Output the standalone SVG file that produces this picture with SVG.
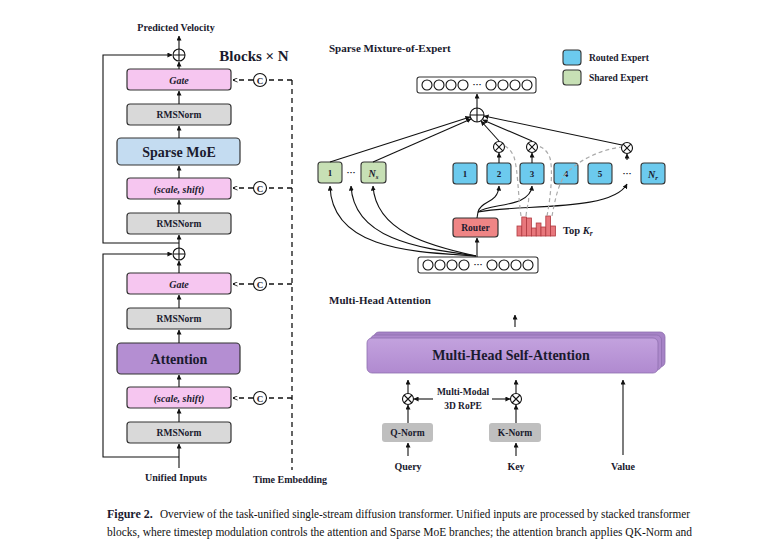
<svg xmlns="http://www.w3.org/2000/svg" width="765" height="540" viewBox="0 0 765 540">
<defs>
<marker id="ah" viewBox="0 0 6 6" refX="5.5" refY="3" markerWidth="5" markerHeight="5" orient="auto" markerUnits="userSpaceOnUse">
<path d="M0,0 L6,3 L0,6 z" fill="#111"/>
</marker>
<marker id="ahd" viewBox="0 0 6 6" refX="5.5" refY="3" markerWidth="5" markerHeight="5" orient="auto" markerUnits="userSpaceOnUse">
<path d="M0,0.5 L6,3 L0,5.5" fill="none" stroke="#111" stroke-width="1"/>
</marker>
<linearGradient id="mh" x1="0" y1="0" x2="0" y2="1">
<stop offset="0" stop-color="#c3a2de"/>
<stop offset="1" stop-color="#b08ad0"/>
</linearGradient>
</defs>
<style>
text{font-family:"Liberation Serif","DejaVu Serif",serif;fill:#1a1a2e;font-weight:bold}
.box{stroke:#333;stroke-width:1.2}
.pink{fill:#f6c6f0}
.gray{fill:#d9d9d9}
.ln{fill:none;stroke:#111;stroke-width:1.1}
.arr{fill:none;stroke:#111;stroke-width:1.1;marker-end:url(#ah)}
.dash{fill:none;stroke:#111;stroke-width:1.3;stroke-dasharray:5,4}
.gd{fill:none;stroke:#aaa;stroke-width:1.2;stroke-dasharray:4,3}
.circ{fill:#fff;stroke:#111;stroke-width:1.1}
.exb{fill:#6ccaee;stroke:#333;stroke-width:1.1}
.exg{fill:#c7e0b5;stroke:#333;stroke-width:1.1}
.tok{fill:#fff;stroke:#333;stroke-width:1.1}
.cap{font-family:"Liberation Serif",serif;font-weight:normal;fill:#111;font-size:11.5px}
</style>

<!-- Left column -->
<text x="176" y="31" font-size="10" text-anchor="middle">Predicted Velocity</text>
<text x="254" y="61" font-size="15" text-anchor="middle">Blocks × N</text>

<g id="plus1"><circle class="circ" cx="179" cy="55" r="6"/><path class="ln" d="M173,55 H185 M179,49 V61"/></g>
<g id="gate1"><rect class="box pink" x="127" y="69" width="104" height="21" rx="3"/><text x="179" y="83.5" font-size="10" font-style="italic" text-anchor="middle" fill="#4a1048">Gate</text></g>
<g id="rms1"><rect class="box gray" x="127" y="104" width="104" height="21" rx="3"/><text x="179" y="118" font-size="9.5" text-anchor="middle">RMSNorm</text></g>
<g id="moe"><rect class="box" fill="#c4dcf1" x="117" y="138" width="123" height="27" rx="4"/><text x="179" y="157" font-size="14" text-anchor="middle">Sparse MoE</text></g>
<g id="ss1"><rect class="box pink" x="127" y="178" width="104" height="21" rx="3"/><text x="179" y="192.5" font-size="10" font-style="italic" text-anchor="middle" fill="#4a1048">(scale, shift)</text></g>
<g id="rms2"><rect class="box gray" x="127" y="213" width="104" height="21" rx="3"/><text x="179" y="227" font-size="9.5" text-anchor="middle">RMSNorm</text></g>
<g id="plus2"><circle class="circ" cx="179" cy="254" r="6"/><path class="ln" d="M173,254 H185 M179,248 V260"/></g>
<g id="gate2"><rect class="box pink" x="127" y="273" width="104" height="21" rx="3"/><text x="179" y="287.5" font-size="10" font-style="italic" text-anchor="middle" fill="#4a1048">Gate</text></g>
<g id="rms3"><rect class="box gray" x="127" y="308" width="104" height="21" rx="3"/><text x="179" y="322" font-size="9.5" text-anchor="middle">RMSNorm</text></g>
<g id="attn"><rect class="box" fill="#b48ed2" x="117" y="343" width="123" height="31" rx="4"/><text x="179" y="363.5" font-size="14" text-anchor="middle">Attention</text></g>
<g id="ss2"><rect class="box pink" x="127" y="387" width="104" height="21" rx="3"/><text x="179" y="401.5" font-size="10" font-style="italic" text-anchor="middle" fill="#4a1048">(scale, shift)</text></g>
<g id="rms4"><rect class="box gray" x="127" y="422" width="104" height="21" rx="3"/><text x="179" y="436" font-size="9.5" text-anchor="middle">RMSNorm</text></g>
<text x="176" y="481" font-size="10" text-anchor="middle">Unified Inputs</text>
<text x="290" y="483" font-size="10" text-anchor="middle">Time Embedding</text>

<g id="c1"><circle class="circ" cx="260" cy="80" r="6.5"/><text x="260" y="83.5" font-size="9" font-weight="normal" text-anchor="middle" font-family="Liberation Sans,sans-serif">C</text></g>
<g id="c2"><circle class="circ" cx="260" cy="188" r="6.5"/><text x="260" y="191.5" font-size="9" font-weight="normal" text-anchor="middle" font-family="Liberation Sans,sans-serif">C</text></g>
<g id="c3"><circle class="circ" cx="260" cy="284" r="6.5"/><text x="260" y="287.5" font-size="9" font-weight="normal" text-anchor="middle" font-family="Liberation Sans,sans-serif">C</text></g>
<g id="c4"><circle class="circ" cx="260" cy="398" r="6.5"/><text x="260" y="401.5" font-size="9" font-weight="normal" text-anchor="middle" font-family="Liberation Sans,sans-serif">C</text></g>

<g id="left-connectors">
<path class="arr" d="M179,468 V444"/>
<path class="arr" d="M179,422 V409"/>
<path class="arr" d="M179,387 V375"/>
<path class="arr" d="M179,343 V330"/>
<path class="arr" d="M179,308 V295"/>
<path class="arr" d="M179,273 V261"/>
<path class="arr" d="M179,248 V235"/>
<path class="arr" d="M179,213 V200"/>
<path class="arr" d="M179,178 V166"/>
<path class="arr" d="M179,138 V126"/>
<path class="arr" d="M179,104 V91"/>
<path class="arr" d="M179,69 V62"/>
<path class="arr" d="M179,49 V36"/>
<path class="arr" d="M179,243 H103 V55 H172"/>
<path class="arr" d="M179,457 H103 V254 H172"/>
<path class="dash" d="M292,80 V470"/>
<path class="dash" d="M292,80 H267 M253,80 H233" marker-end="url(#ahd)"/>
<path class="dash" d="M292,188 H267 M253,188 H233" marker-end="url(#ahd)"/>
<path class="dash" d="M292,284 H267 M253,284 H233" marker-end="url(#ahd)"/>
<path class="dash" d="M292,398 H267 M253,398 H233" marker-end="url(#ahd)"/>
</g>

<!-- Sparse MoE -->
<text x="329" y="52" font-size="11">Sparse Mixture-of-Expert</text>
<g id="legend">
<rect class="exb" x="563" y="50" width="18" height="15" rx="3"/>
<text x="589" y="61" font-size="9.5">Routed Expert</text>
<rect class="exg" x="563" y="70" width="18" height="15" rx="3"/>
<text x="589" y="81" font-size="9.5">Shared Expert</text>
</g>

<g id="tok-top">
<rect class="tok" x="417" y="77" width="119" height="16" rx="2.5"/>
<g class="circ"><circle cx="427" cy="85" r="5"/><circle cx="439" cy="85" r="5"/><circle cx="451" cy="85" r="5"/><circle cx="463" cy="85" r="5"/><circle cx="491" cy="85" r="5"/><circle cx="503" cy="85" r="5"/><circle cx="515" cy="85" r="5"/><circle cx="527" cy="85" r="5"/></g>
<text x="477" y="87" font-size="9" text-anchor="middle">···</text>
</g>
<g id="tok-bot">
<rect class="tok" x="418" y="257" width="120" height="16" rx="2.5"/>
<g class="circ"><circle cx="428" cy="265" r="5"/><circle cx="440" cy="265" r="5"/><circle cx="452" cy="265" r="5"/><circle cx="464" cy="265" r="5"/><circle cx="492" cy="265" r="5"/><circle cx="504" cy="265" r="5"/><circle cx="516" cy="265" r="5"/><circle cx="528" cy="265" r="5"/></g>
<text x="478" y="267" font-size="9" text-anchor="middle">···</text>
</g>
<g id="moe-plus"><circle class="circ" cx="477" cy="115" r="7"/><path class="ln" d="M470,115 H484 M477,108 V122"/></g>

<g id="shared1"><rect class="exg" x="318" y="162" width="24" height="21" rx="3"/><text x="330" y="176" font-size="9" text-anchor="middle">1</text></g>
<text x="351" y="175" font-size="9" text-anchor="middle">···</text>
<g id="sharedNs"><rect class="exg" x="361" y="162" width="25" height="21" rx="3"/><text x="373.5" y="176.5" font-size="10" text-anchor="middle" font-style="italic" fill="#1d4a1d">N<tspan font-size="7" dy="2">s</tspan></text></g>

<g id="r1"><rect class="exb" x="453" y="163" width="24" height="21" rx="3"/><text x="465" y="177" font-size="9" text-anchor="middle">1</text></g>
<g id="r2"><rect class="exb" x="487" y="163" width="24" height="21" rx="3"/><text x="499" y="177" font-size="9" text-anchor="middle">2</text></g>
<g id="r3"><rect class="exb" x="520" y="163" width="24" height="21" rx="3"/><text x="532" y="177" font-size="9" text-anchor="middle">3</text></g>
<g id="r4"><rect class="exb" x="554" y="163" width="24" height="21" rx="3"/><text x="566" y="177" font-size="9" text-anchor="middle">4</text></g>
<g id="r5"><rect class="exb" x="588" y="163" width="24" height="21" rx="3"/><text x="600" y="177" font-size="9" text-anchor="middle">5</text></g>
<text x="627" y="176" font-size="9" text-anchor="middle">···</text>
<g id="rNr"><rect class="exb" x="641" y="163" width="24" height="21" rx="3"/><text x="653" y="177.5" font-size="10" text-anchor="middle" font-style="italic">N<tspan font-size="7" dy="2">r</tspan></text></g>

<g id="mul2"><circle class="circ" cx="499" cy="147" r="5.5"/><path class="ln" d="M495.2,143.2 L502.8,150.8 M502.8,143.2 L495.2,150.8"/></g>
<g id="mul3"><circle class="circ" cx="532" cy="147" r="5.5"/><path class="ln" d="M528.2,143.2 L535.8,150.8 M535.8,143.2 L528.2,150.8"/></g>
<g id="mulN"><circle class="circ" cx="627" cy="148" r="5.5"/><path class="ln" d="M623.2,144.2 L630.8,151.8 M630.8,144.2 L623.2,151.8"/></g>

<g id="router"><rect class="box" fill="#ef8585" x="453" y="218" width="45" height="19" rx="3"/><text x="475.5" y="231" font-size="9.5" text-anchor="middle" fill="#6a0c0c">Router</text></g>

<g id="hist" fill="#e8777c" stroke="#b03a40" stroke-width="0.8">
<rect x="517" y="226" width="4.8" height="10"/>
<rect x="521.8" y="217" width="4.8" height="19"/>
<rect x="526.6" y="218" width="4.8" height="18"/>
<rect x="531.4" y="228" width="4.8" height="8"/>
<rect x="536.2" y="223" width="4.8" height="13"/>
<rect x="541" y="227" width="4.8" height="9"/>
<rect x="545.8" y="216" width="4.8" height="20"/>
<rect x="550.6" y="226" width="4.8" height="10"/>
</g>
<text x="563" y="234" font-size="10.5">Top <tspan font-style="italic">K</tspan><tspan font-size="7.5" font-style="italic" dy="2">r</tspan></text>

<g id="moe-connectors">
<path class="arr" d="M477,108 V94"/>
<path class="arr" d="M330,162 L470,117"/>
<path class="arr" d="M373,162 L471,119"/>
<path class="arr" d="M499,141 L481,121"/>
<path class="arr" d="M532,141 L483,120"/>
<path class="arr" d="M622,145 L484,116"/>
<path class="arr" d="M499,163 V153"/>
<path class="arr" d="M532,163 V153"/>
<path class="arr" d="M627,160 V154"/>
<path class="arr" d="M477,257 V238"/>
<path class="arr" d="M476,256 C420,252 332,252 330,186"/>
<path class="arr" d="M476,256 C420,248 354,240 351,186"/>
<path class="arr" d="M476,256 C430,246 376,232 373,186"/>
<path class="ln" d="M477,218 L478,212"/>
<path class="arr" d="M478,212 C481,200 498,204 499,186"/>
<path class="arr" d="M478,212 C490,203 530,208 532,186"/>
<path class="arr" d="M478,212 C520,204 612,212 627,184"/>
<path class="gd" d="M521,216 C518,195 518,170 514,157 C511,150 508,148 505,146"/>
<path class="gd" d="M526,216 C527,205 530,200 528,196"/>
<path class="gd" d="M547,216 C551,195 553,170 550,158 C547,150 542,147 538,146"/>
<path class="gd" d="M552,216 C555,200 558,185 565,175 C578,160 600,150 621,147"/>
</g>

<!-- Multi-Head Attention -->
<text x="329" y="304" font-size="11">Multi-Head Attention</text>
<path class="arr" d="M515,327 V315"/>
<g id="mhsa">
<rect x="374" y="332" width="291" height="35" rx="5" fill="#a683c6" stroke="#8e6fae" stroke-width="0.8"/>
<rect x="370.5" y="335" width="291" height="35" rx="5" fill="#ad89cc" stroke="#8e6fae" stroke-width="0.8"/>
<rect x="367" y="338" width="291" height="35" rx="5" fill="url(#mh)" stroke="#8e6fae" stroke-width="0.8"/>
<text x="511" y="360" font-size="14" text-anchor="middle">Multi-Head Self-Attention</text>
</g>
<g id="mulQ"><circle class="circ" cx="408" cy="399" r="5.5"/><path class="ln" d="M404,395 L412,403 M412,395 L404,403"/></g>
<g id="mulK"><circle class="circ" cx="516" cy="399" r="5.5"/><path class="ln" d="M512,395 L520,403 M520,395 L512,403"/></g>
<text x="463" y="395" font-size="9.5" text-anchor="middle">Multi-Modal</text>
<text x="463" y="409" font-size="9.5" text-anchor="middle">3D RoPE</text>
<g id="qnorm"><rect x="382" y="423" width="51" height="19" rx="3" fill="#bfbfbf"/><text x="407.5" y="436" font-size="9.5" text-anchor="middle">Q-Norm</text></g>
<g id="knorm"><rect x="489" y="423" width="52" height="19" rx="3" fill="#bfbfbf"/><text x="515" y="436" font-size="9.5" text-anchor="middle">K-Norm</text></g>
<text x="408" y="470" font-size="10" text-anchor="middle">Query</text>
<text x="516" y="470" font-size="10" text-anchor="middle">Key</text>
<text x="623" y="470" font-size="10" text-anchor="middle">Value</text>
<g id="mha-connectors">
<path class="arr" d="M408,456 V443"/>
<path class="arr" d="M408,423 V405"/>
<path class="arr" d="M408,393 V380"/>
<path class="arr" d="M516,456 V443"/>
<path class="arr" d="M516,423 V405"/>
<path class="arr" d="M516,393 V380"/>
<path class="arr" d="M623,455 V380"/>
<path class="arr" d="M433,399 H414"/>
<path class="arr" d="M492,399 H510"/>
</g>

<!-- Caption -->
<text x="107" y="518" font-family="Liberation Sans,Arial,sans-serif" font-weight="bold" font-size="12" fill="#111">Figure 2.</text>
<text class="cap" x="160" y="518" textLength="530" lengthAdjust="spacingAndGlyphs">Overview of the task-unified single-stream diffusion transformer. Unified inputs are processed by stacked transformer</text>
<text class="cap" x="107" y="536" textLength="585" lengthAdjust="spacingAndGlyphs">blocks, where timestep modulation controls the attention and Sparse MoE branches; the attention branch applies QK-Norm and</text>
</svg>
